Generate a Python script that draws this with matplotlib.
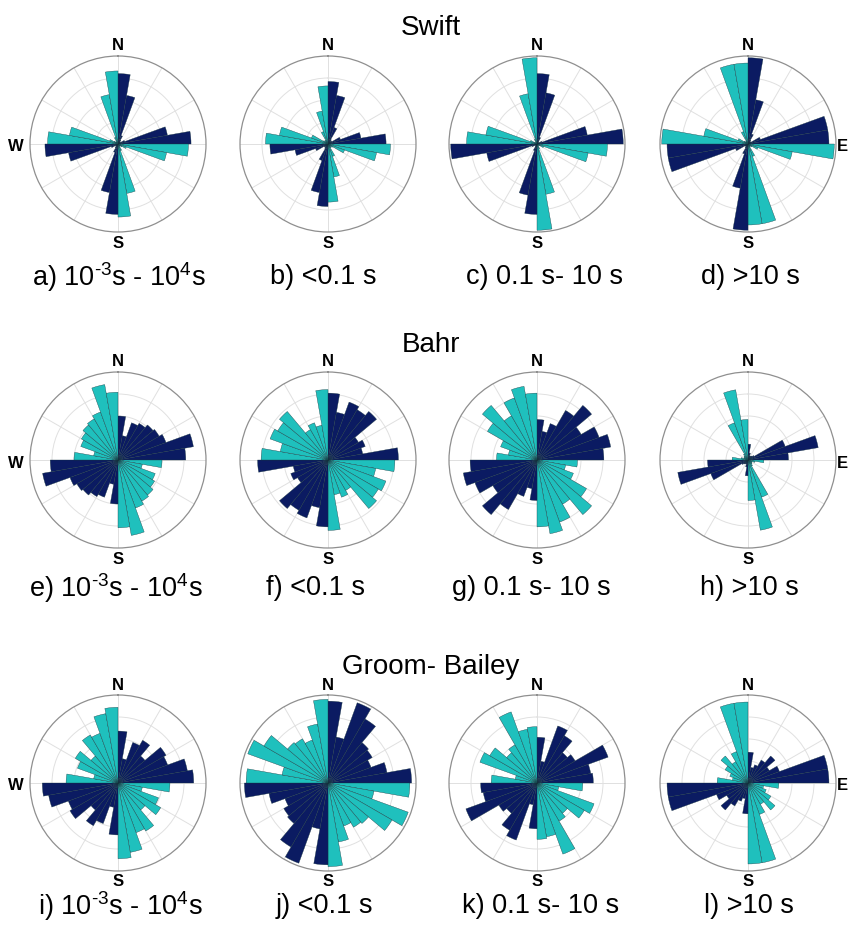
import numpy as np
import matplotlib
matplotlib.use("Agg")
import matplotlib.pyplot as plt

plt.rcParams['font.family'] = ['Liberation Sans', 'DejaVu Sans']
plt.rcParams['mathtext.fontset'] = 'custom'
plt.rcParams['mathtext.rm'] = 'Liberation Sans'
plt.rcParams['mathtext.default'] = 'regular'

# Strike-direction rose data: relative frequency per 10-degree bin over 0-90 deg.
# The 90-degree ambiguity of the strike is shown by repeating each set in all
# four quadrants (NE/SW dark, SE/NW light).
bin_start_deg = [0, 10, 20, 30, 40, 50, 60, 70, 80]

swift_all   = [0.80, 0.56, 0.10, 0.05, 0.03, 0.03, 0.08, 0.57, 0.83]
swift_short = [0.71, 0.56, 0.20, 0.06, 0.04, 0.05, 0.15, 0.38, 0.66]
swift_mid   = [0.80, 0.59, 0.08, 0.03, 0.02, 0.02, 0.06, 0.58, 0.98]
swift_long  = [0.98, 0.51, 0.12, 0.05, 0.03, 0.04, 0.15, 0.92, 0.92]

bahr_all    = [0.50, 0.28, 0.45, 0.48, 0.52, 0.54, 0.58, 0.87, 0.77]
bahr_short  = [0.76, 0.55, 0.70, 0.66, 0.72, 0.40, 0.45, 0.40, 0.80]
bahr_mid    = [0.46, 0.33, 0.44, 0.65, 0.81, 0.58, 0.75, 0.85, 0.76]
bahr_long   = [0.18, 0.08, 0.05, 0.05, 0.06, 0.08, 0.45, 0.81, 0.46]

gb_all      = [0.59, 0.28, 0.49, 0.56, 0.40, 0.63, 0.60, 0.80, 0.86]
gb_short    = [0.93, 0.53, 0.97, 0.84, 0.60, 0.58, 0.52, 0.68, 0.95]
gb_mid      = [0.52, 0.25, 0.69, 0.62, 0.45, 0.50, 0.86, 0.62, 0.64]
gb_long     = [0.35, 0.18, 0.22, 0.30, 0.40, 0.28, 0.38, 0.92, 0.92]

row_titles = ["Swift", "Bahr", "Groom- Bailey"]
period_labels = ["10$^{\u20103}$s - 10$^{4}$s", "<0.1 s", "0.1 s- 10 s", ">10 s"]
panel_letters = list("abcdefghijkl")

panels = [
    [swift_all, swift_short, swift_mid, swift_long],
    [bahr_all, bahr_short, bahr_mid, bahr_long],
    [gb_all, gb_short, gb_mid, gb_long],
]

NAVY = "#0b1b62"
CYAN = "#1fc0bd"

W_PX, H_PX = 849, 925
fig = plt.figure(figsize=(W_PX / 100, H_PX / 100), dpi=100)

col_x = [118, 328, 537, 748]
row_y = [144, 460, 783]
title_y = [28, 345, 667]
label_y = [277, 588, 906]
label_x = [[119, 323, 545, 750],
           [116, 316, 531, 749],
           [120, 324, 541, 749]]
R = 88


def fx(px):
    return px / W_PX


def fy(py):
    return 1 - py / H_PX


base = np.deg2rad(np.array(bin_start_deg, dtype=float))
width = np.deg2rad(10)

for i, row in enumerate(panels):
    fig.text(fx(431), fy(title_y[i]), row_titles[i], ha='center', va='center',
             fontsize=20)
    for j, vals in enumerate(row):
        cx, cy = col_x[j], row_y[i]
        ax = fig.add_axes([fx(cx - R), fy(cy + R), 2 * R / W_PX, 2 * R / H_PX],
                          projection='polar')
        ax.set_theta_zero_location('N')
        ax.set_theta_direction(-1)
        ax.set_ylim(0, 1)
        ax.set_axisbelow(True)
        for q in range(4):
            color = NAVY if q % 2 == 0 else CYAN
            ax.bar(base + q * np.pi / 2, vals, width=width, align='edge',
                   color=color, edgecolor='#16343c', linewidth=0.25, zorder=2)
        ax.set_xticks(np.deg2rad(np.arange(0, 360, 30)))
        ax.set_xticklabels([])
        ax.set_yticks([0.25, 0.5, 0.75])
        ax.set_yticklabels([])
        ax.grid(True, color='#e0e0e0', linewidth=0.7)
        ax.spines['polar'].set_color('#8f8f8f')
        ax.spines['polar'].set_linewidth(0.9)

        fig.text(fx(cx), fy(cy - R - 10), "N", ha='center', va='center',
                 fontsize=12, fontweight='bold')
        fig.text(fx(cx), fy(cy + R + 11), "S", ha='center', va='center',
                 fontsize=12, fontweight='bold')
        if j == 0:
            fig.text(fx(cx - R - 14), fy(cy + 3), "W", ha='center', va='center',
                     fontsize=12, fontweight='bold')
        if j == 3:
            fig.text(fx(W_PX - 1), fy(cy + 3), "E", ha='right', va='center',
                     fontsize=12, fontweight='bold')

        letter = panel_letters[i * 4 + j]
        fig.text(fx(label_x[i][j]), fy(label_y[i]), f"{letter}) {period_labels[j]}",
                 ha='center', va='center', fontsize=19.5)

fig.savefig("out.png", dpi=100)
